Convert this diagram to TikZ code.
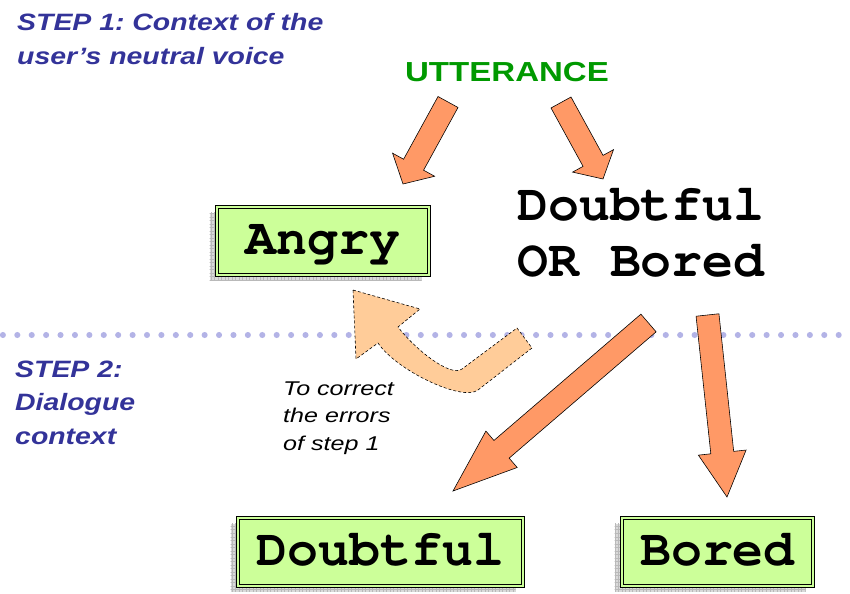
\documentclass[tikz,border=0pt]{standalone}
\usepackage[T1,TU]{fontenc}
\usepackage{fontspec}
\setmainfont{Liberation Sans}
\usepackage{graphicx}
\usetikzlibrary{calc,shadows,patterns}
\frenchspacing

\definecolor{stepblue}{HTML}{333399}
\definecolor{uttgreen}{HTML}{009900}
\definecolor{boxgreen}{HTML}{CCFF99}
\definecolor{arrowfill}{HTML}{FF9966}
\definecolor{backfill}{HTML}{FFCC99}
\definecolor{dotcol}{HTML}{B3B3E6}

\newcommand{\courierbig}{\fontencoding{T1}\fontfamily{pcr}\fontseries{b}\fontshape{n}\fontsize{44}{48.5}\selectfont}
\newcommand{\stretched}[2]{\scalebox{#1}[1]{\begin{tabular}[t]{@{}l@{}}#2\end{tabular}}}

% block arrow: tail, tip, half shaft width, half head width, head length
\newcommand{\fatarrow}[5]{%
  \coordinate (hb) at ($(#2)!#5!(#1)$);
  \draw[fat] ($(#1)!#3!90:(#2)$) -- ($(hb)!#3!90:(#2)$) -- ($(hb)!#4!90:(#2)$) -- (#2)
    -- ($(hb)!#4!-90:(#2)$) -- ($(hb)!#3!-90:(#2)$) -- ($(#1)!#3!-90:(#2)$) -- cycle;
}

\tikzset{
  emotion/.style={draw=black, line width=0.5pt, double=boxgreen, double distance=2pt,
    fill=boxgreen, minimum height=2.04cm, inner sep=0pt, text height=30pt, text depth=7pt,
    font=\courierbig,
    drop shadow={shadow xshift=-0.22cm, shadow yshift=-0.17cm, opacity=1, fill=gray!30,
      postaction={pattern=grid, pattern color=gray!55}}},
  steptext/.style={text=stepblue, inner sep=0pt, font=\bfseries\itshape\fontsize{20.2}{29}\selectfont},
  note/.style={inner sep=0pt, font=\itshape\fontsize{17}{23.8}\selectfont},
  fat/.style={draw=black, line width=0.5pt, fill=arrowfill, line join=miter},
  back/.style={draw=black, line width=0.5pt, dash pattern=on 2.5pt off 1.8pt, fill=backfill}
}

\begin{document}
\begin{tikzpicture}[x=0.03cm, y=-0.03cm]
  \useasboundingbox (0,0) rectangle (850,593);

  % dotted separator
  \foreach \i in {0,...,58}
    \fill[dotcol] ({2.9+14.41*\i},335) circle (2.6pt);

  % texts
  \node[steptext, anchor=base west] (step1) at (17,31)
    {\stretched{1.2}{STEP 1: Context of the\\user’s neutral voice}};
  \node[steptext, anchor=base west] (step2) at (15,377)
    {\stretched{1.2}{STEP 2:\\Dialogue\\context}};
  \node[text=uttgreen, inner sep=0pt, font=\bfseries\fontsize{23.5}{28}\selectfont] (utt) at (507,72)
    {\scalebox{1.2}[1]{UTTERANCE}};
  \node[font=\courierbig, inner sep=0pt, anchor=base west] (choice) at (517,220)
    {\begin{tabular}[t]{@{}l@{}}Doubtful\\OR Bored\end{tabular}};
  \node[note, anchor=base west] (fix) at (283,395)
    {\stretched{1.26}{To correct\\the errors\\of step 1}};

  % boxes
  \node[emotion, minimum width=6.36cm] (angry) at (323,241) {Angry};
  \node[emotion, minimum width=8.55cm] (doubt) at (380.5,552) {Doubtful};
  \node[emotion, minimum width=5.73cm] (bored) at (717.5,552) {Bored};

  % arrows
  \coordinate (t1) at (448,102);   \coordinate (h1) at (403,184);
  \coordinate (t2) at (561,102.5); \coordinate (h2) at (603,179);
  \coordinate (t3) at (648.5,323); \coordinate (h3) at (453,491);
  \coordinate (t4) at (707.5,315); \coordinate (h4) at (727,497);
  \fatarrow{t1}{h1}{0.342cm}{0.72cm}{0.66cm}
  \fatarrow{t2}{h2}{0.342cm}{0.70cm}{0.62cm}
  \fatarrow{t3}{h3}{0.35cm}{0.72cm}{1.92cm}
  \fatarrow{t4}{h4}{0.345cm}{0.72cm}{1.34cm}

  % back to step 1
  \coordinate (ret) at (353,290);
  \draw[back] (ret) -- (420,309) -- (398,327) .. controls (413,347) and (450,378) .. (462,369)
    -- (517,328) -- (532,348) -- (478,390) .. controls (462,402) and (396,370) .. (378,343)
    -- (356,359) -- cycle;
\end{tikzpicture}
\end{document}
